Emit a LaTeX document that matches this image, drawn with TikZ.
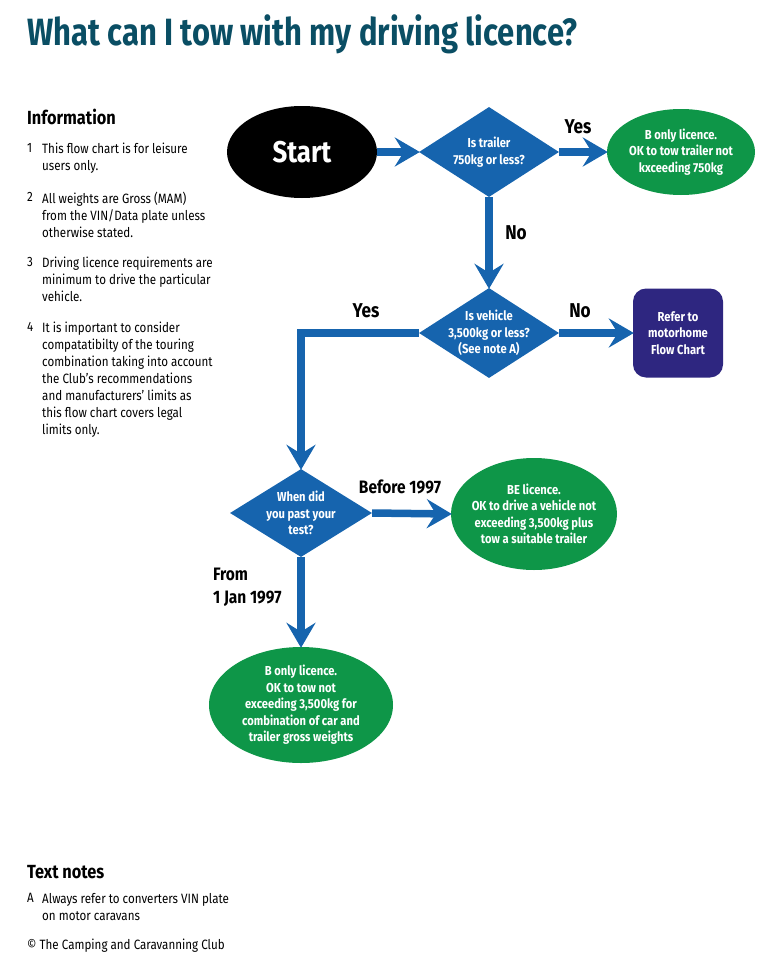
\documentclass[tikz,border=0pt]{standalone}
\usepackage{fontspec}
\setmainfont{Fira Sans}[FakeStretch=0.86]
\newfontfamily\titlefont{Fira Sans}[FakeStretch=0.815]
\usetikzlibrary{shapes.geometric,arrows.meta}
\definecolor{fcblue}{RGB}{22,100,174}
\definecolor{fcgreen}{RGB}{14,150,72}
\definecolor{fcpurple}{RGB}{46,38,128}
\definecolor{fcteal}{RGB}{10,78,100}
\tikzset{
  dia/.style={shape=diamond, fill=fcblue, inner sep=0pt, minimum width=140pt, minimum height=90pt},
  greenell/.style={shape=ellipse, fill=fcgreen, inner sep=0pt},
  intext/.style={text=white, font=\bfseries\fontsize{13}{16.5}\selectfont, align=center, inner sep=0pt},
  flowarrow/.style={draw=fcblue, line width=7.5pt, -{Stealth[length=25pt,width=29pt,inset=9pt]}},
  lbl/.style={font=\bfseries\fontsize{20}{22}\selectfont, inner sep=0pt},
  body/.style={font=\fontsize{13.5}{17}\selectfont, align=left, anchor=north west, inner sep=0pt},
  head/.style={font=\bfseries\fontsize{19}{22}\selectfont, anchor=base west, inner sep=0pt}
}
\begin{document}
\begin{tikzpicture}[x=1pt,y=-1pt]
\useasboundingbox (0,0) rectangle (774,961);

% title
\node[anchor=base west, inner sep=0pt, text=fcteal, font=\titlefont\bfseries\fontsize{38}{40}\selectfont] (title) at (27,45) {What can I tow with my driving licence?};

% information
\node[head] (infohead) at (27,124) {Information};
\node[body] (n1) at (27,143) {1};
\node[body] (t1) at (42,143) {This flow chart is for leisure\\users only.};
\node[body] (n2) at (27,192) {2};
\node[body] (t2) at (42,192) {All weights are Gross (MAM)\\from the VIN/Data plate unless\\otherwise stated.};
\node[body] (n3) at (27,257) {3};
\node[body] (t3) at (42,257) {Driving licence requirements are\\minimum to drive the particular\\vehicle.};
\node[body] (n4) at (27,322) {4};
\node[body] (t4) at (42,322) {It is important to consider\\compatatibilty of the touring\\combination taking into account\\the Club’s recommendations\\and manufacturers’ limits as\\this flow chart covers legal\\limits only.};

% text notes
\node[head] (noteshead) at (27,878) {Text notes};
\node[body] (na) at (27,893) {A};
\node[body] (ta) at (42,893) {Always refer to converters VIN plate\\on motor caravans};
\node[body] (copy) at (27,939) {© The Camping and Caravanning Club};

% shapes
\node[shape=ellipse, fill=black, minimum width=150pt, minimum height=92pt, inner sep=0pt] (start) at (302,152) {};
\node[text=white, font=\bfseries\fontsize{30}{32}\selectfont, inner sep=0pt] (starttxt) at (start) {Start};

\node[dia] (d1) at (489,152) {};
\node[intext] (d1t) at (d1) {Is trailer\\750kg or less?};

\node[greenell, minimum width=148pt, minimum height=86pt] (g1) at (681,152) {};
\node[intext] (g1t) at (g1) {B only licence.\\OK to tow trailer not\\kxceeding 750kg};

\node[dia] (d2) at (489,333) {};
\node[intext] (d2t) at (d2) {Is vehicle\\3,500kg or less?\\(See note A)};

\node[fill=fcpurple, rounded corners=13pt, minimum width=90pt, minimum height=89pt, inner sep=0pt] (purple) at (678,333) {};
\node[intext] (pt) at (purple) {Refer to\\motorhome\\Flow Chart};

\node[dia, minimum width=142pt, minimum height=88pt] (d3) at (301,513) {};
\node[intext] (d3t) at (d3) {When did\\you past your\\test?};

\node[greenell, minimum width=166pt, minimum height=112pt] (g2) at (534,514) {};
\node[intext] (g2t) at (g2) {BE licence.\\OK to drive a vehicle not\\exceeding 3,500kg plus\\tow a suitable trailer};

\node[greenell, minimum width=184pt, minimum height=116pt] (g3) at (301,705) {};
\node[intext] (g3t) at (g3) {B only licence.\\OK to tow not\\exceeding 3,500kg for\\combination of car and\\trailer gross weights};

% connectors
\draw[flowarrow, shorten >=-1pt] (start.east) -- (d1.west);
\draw[flowarrow, shorten >=-1pt] (d1.east) -- (g1.west);
\draw[flowarrow, shorten >=-1pt] (d1.south) -- (d2.north);
\draw[flowarrow, shorten >=-1pt] (d2.east) -- (purple.west);
\draw[flowarrow, shorten >=-1pt] (d2.west) -| (d3.north);
\draw[flowarrow, shorten >=-1pt] (d3.east) -- (g2.west);
\draw[flowarrow, shorten >=-1pt] (d3.south) -- (g3.north);

% labels
\node[lbl] (yes1) at (578,127) {Yes};
\node[lbl] (no1) at (516,233) {No};
\node[lbl] (yes2) at (366,311) {Yes};
\node[lbl] (no2) at (580,311) {No};
\node[lbl, font=\bfseries\fontsize{18}{20}\selectfont] (before) at (400,487) {Before 1997};
\node[lbl, font=\bfseries\fontsize{18}{23}\selectfont, align=left, anchor=west] (from) at (213,587) {From\\1 Jan 1997};
\end{tikzpicture}
\end{document}
